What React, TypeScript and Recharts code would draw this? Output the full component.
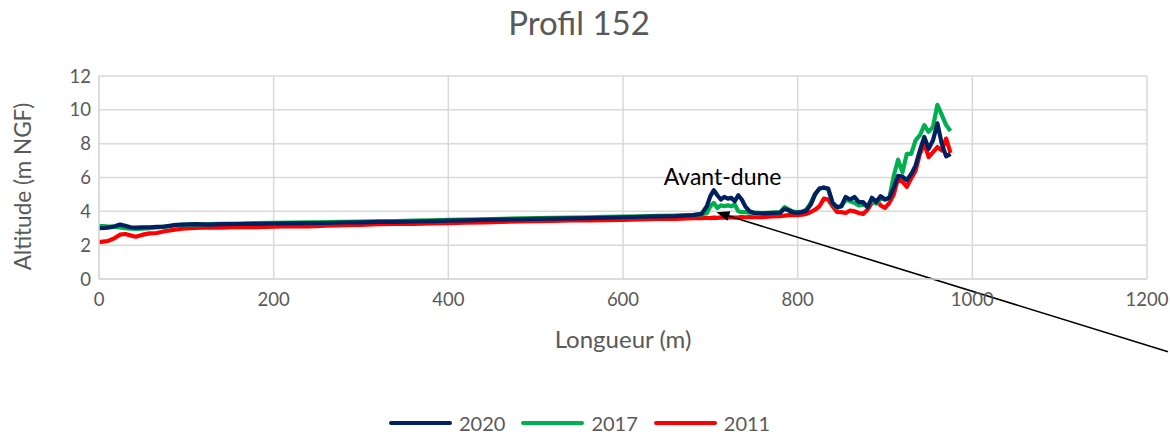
import {
  LineChart,
  Line,
  XAxis,
  YAxis,
  CartesianGrid,
  Legend,
  ReferenceLine,
  ReferenceDot,
} from 'recharts';

// profil 152 - distance le long du transect (m)
const distances = [
  0, 7, 12, 18, 24, 30, 36, 42, 50, 58,
  66, 75, 85, 95, 110, 125, 140, 160, 180, 200,
  220, 240, 260, 280, 300, 320, 340, 360, 380, 400,
  420, 440, 460, 480, 500, 520, 540, 560, 580, 600,
  620, 640, 660, 680, 690, 696, 700, 704, 708, 712,
  716, 720, 724, 728, 732, 736, 740, 745, 750, 760,
  770, 780, 785, 790, 795, 800, 805, 810, 815, 820,
  825, 830, 835, 840, 845, 850, 855, 860, 865, 870,
  875, 880, 885, 890, 895, 900, 905, 910, 915, 920,
  925, 930, 935, 940, 945, 950, 955, 960, 965, 970,
  975,
];

const alt2020 = [
  3.0, 3.02, 3.05, 3.12, 3.22, 3.15, 3.06, 3.04, 3.05, 3.06,
  3.08, 3.1, 3.18, 3.22, 3.24, 3.22, 3.24, 3.25, 3.26, 3.28,
  3.29, 3.3, 3.31, 3.34, 3.35, 3.37, 3.38, 3.4, 3.42, 3.45,
  3.47, 3.49, 3.51, 3.53, 3.55, 3.57, 3.58, 3.6, 3.62, 3.65,
  3.68, 3.7, 3.72, 3.78, 3.85, 4.3, 4.9, 5.25, 4.95, 4.7,
  4.85, 4.75, 4.8, 4.6, 4.95, 4.7, 4.3, 4.0, 3.9, 3.88,
  3.9, 3.92, 4.15, 4.05, 3.93, 3.92, 3.95, 4.05, 4.4, 5.0,
  5.35, 5.4, 5.35, 4.5, 4.25, 4.3, 4.85, 4.7, 4.85, 4.55,
  4.55, 4.25, 4.8, 4.55, 4.9, 4.7, 4.8, 5.4, 6.1, 6.05,
  5.85, 6.2, 6.7, 7.6, 8.4, 7.7, 8.2, 9.2, 8.0, 7.25,
  7.4,
];

const alt2017 = [
  3.12, 3.12, 3.1, 3.08, 3.05, 3.0, 2.97, 2.96, 2.98, 3.0,
  3.05, 3.1, 3.15, 3.2, 3.22, 3.24, 3.26, 3.28, 3.3, 3.32,
  3.33, 3.35, 3.36, 3.38, 3.4, 3.42, 3.43, 3.45, 3.47, 3.49,
  3.51, 3.53, 3.56, 3.58, 3.6, 3.62, 3.63, 3.65, 3.67, 3.69,
  3.71, 3.73, 3.75, 3.78, 3.82, 3.9, 4.3, 4.5, 4.2, 4.35,
  4.3, 4.35, 4.3, 4.4, 4.0, 3.95, 3.95, 3.92, 3.92, 3.9,
  3.92, 3.95, 4.25, 4.1, 3.98, 3.95, 3.98, 4.1, 4.5, 5.05,
  5.35, 5.4, 5.3, 4.45, 4.2, 4.3, 4.7, 4.6, 4.5, 4.35,
  4.4, 4.3, 4.6, 4.45, 4.75, 4.7, 4.8, 6.1, 7.05, 6.3,
  7.4, 7.4, 8.2, 8.5, 9.1, 8.7, 9.0, 10.3, 9.7, 9.1,
  8.75,
];

const alt2011 = [
  2.18, 2.22, 2.28, 2.42, 2.62, 2.66, 2.58, 2.5, 2.62, 2.7,
  2.72, 2.82, 2.9, 2.98, 3.02, 3.05, 3.04, 3.08, 3.06, 3.1,
  3.12, 3.11, 3.15, 3.18, 3.2, 3.24, 3.25, 3.26, 3.28, 3.3,
  3.33, 3.34, 3.38, 3.4, 3.42, 3.43, 3.46, 3.47, 3.48, 3.5,
  3.52, 3.55, 3.56, 3.6, 3.6, 3.62, 3.6, 3.63, 3.61, 3.64,
  3.62, 3.63, 3.65, 3.63, 3.64, 3.66, 3.65, 3.66, 3.65, 3.66,
  3.7, 3.72, 3.75, 3.78, 3.78, 3.78, 3.8, 3.85, 3.96, 4.1,
  4.3, 4.75, 4.7, 4.3, 3.96, 3.95, 3.9, 4.05, 4.0, 3.9,
  3.85, 4.1, 4.5, 4.65, 4.35, 4.2, 4.5, 5.0, 5.95, 5.75,
  5.45, 5.95, 6.4, 7.4, 8.0, 7.2, 7.5, 7.8, 7.6, 8.3,
  7.45,
];

const xTicks = [0, 200, 400, 600, 800, 1000, 1200];
const yTicks = [0, 2, 4, 6, 8, 10, 12];

// annotation: pointe de la fleche et depart hors du graphe
const avantDune = { label: 'Avant-dune', textX: 714, textY: 6.1, tipX: 707, tipY: 3.95, tailX: 1224, tailY: -4.3 };

const data = distances.map((x, i) => ({
  x,
  a2020: alt2020[i],
  a2017: alt2017[i],
  a2011: alt2011[i],
}));

const FONT = 'Lato, "Open Sans", sans-serif';
const GREY = '#595959';
const GRID = '#d9d9d9';

const Arrow = (props: any) => {
  const { x1, y1, x2, y2 } = props;
  // la pointe est au point (x1, y1)
  const ang = Math.atan2(y1 - y2, x1 - x2);
  const len = 13;
  const w = 5;
  const bx = x1 - len * Math.cos(ang);
  const by = y1 - len * Math.sin(ang);
  const px = -Math.sin(ang) * w;
  const py = Math.cos(ang) * w;
  return (
    <g>
      <line x1={bx} y1={by} x2={x2} y2={y2} stroke="#000" strokeWidth={1.6} />
      <polygon points={`${x1},${y1} ${bx + px},${by + py} ${bx - px},${by - py}`} fill="#000" />
    </g>
  );
};

const renderLegend = (props: any) => {
  const items = [...(props.payload || [])].reverse();
  return (
    <div style={{ display: 'flex', alignItems: 'center', fontFamily: FONT, fontSize: 20, color: GREY }}>
      {items.map((it: any) => (
        <div key={it.value} style={{ display: 'flex', alignItems: 'center', marginRight: 16 }}>
          <span style={{ display: 'inline-block', width: 63, height: 4, borderRadius: 2, background: it.color, marginRight: 7 }} />
          {it.value}
        </div>
      ))}
    </div>
  );
};

export default function App() {
  return (
    <div style={{ position: 'absolute', left: 0, top: 0, width: 1170, height: 435, background: '#fff' }}>
      <div
        style={{
          position: 'absolute',
          left: 0,
          width: 1158,
          top: 2,
          textAlign: 'center',
          fontFamily: FONT,
          fontSize: 33,
          lineHeight: '40px',
          color: GREY,
        }}
      >
        Profil 152
      </div>
      <LineChart width={1170} height={435} data={data} margin={{ top: 76, right: 23, bottom: 0, left: 0 }}>
        <CartesianGrid stroke={GRID} strokeWidth={1.5} />
        <XAxis
          dataKey="x"
          type="number"
          domain={[0, 1200]}
          ticks={xTicks}
          height={132}
          tickLine={false}
          axisLine={{ stroke: GRID, strokeWidth: 1.5 }}
          tickMargin={8}
          tick={{ fill: GREY, fontSize: 18.5, fontFamily: FONT }}
          label={{ value: 'Longueur (m)', position: 'insideTop', offset: 52, fill: GREY, fontSize: 24, fontFamily: FONT }}
        />
        <YAxis
          type="number"
          domain={[0, 12]}
          ticks={yTicks}
          width={99}
          tickLine={false}
          axisLine={{ stroke: GRID, strokeWidth: 1.5 }}
          tick={{ fill: GREY, fontSize: 18.5, fontFamily: FONT }}
          label={{
            content: (p: any) => {
              const vb = p.viewBox;
              const cx = 22;
              const cy = vb.y + vb.height / 2 + 9;
              return (
                <text
                  x={cx}
                  y={cy}
                  transform={`rotate(-90, ${cx}, ${cy})`}
                  textAnchor="middle"
                  dominantBaseline="central"
                  fill={GREY}
                  fontSize={22.5}
                  fontFamily={FONT}
                >
                  Altitude (m NGF)
                </text>
              );
            },
          }}
        />
        <Legend
          verticalAlign="bottom"
          content={renderLegend}
          wrapperStyle={{ left: 389, bottom: 0, width: 'auto', height: 24 }}
        />
        <Line name="2011" dataKey="a2011" stroke="#ff0000" strokeWidth={4.2} dot={false} isAnimationActive={false} strokeLinejoin="round" />
        <Line name="2017" dataKey="a2017" stroke="#00b050" strokeWidth={4.2} dot={false} isAnimationActive={false} strokeLinejoin="round" />
        <Line name="2020" dataKey="a2020" stroke="#002060" strokeWidth={4.2} dot={false} isAnimationActive={false} strokeLinejoin="round" />
        <ReferenceLine
          segment={[
            { x: avantDune.tipX, y: avantDune.tipY },
            { x: avantDune.tailX, y: avantDune.tailY },
          ]}
          ifOverflow="visible"
          shape={Arrow}
        />
        <ReferenceDot
          x={avantDune.textX}
          y={avantDune.textY}
          r={0}
          ifOverflow="visible"
          shape={(p: any) => (
            <text x={p.cx} y={p.cy} textAnchor="middle" dominantBaseline="central" fill="#000" fontSize={23} fontFamily={FONT}>
              {avantDune.label}
            </text>
          )}
        />
      </LineChart>
    </div>
  );
}
